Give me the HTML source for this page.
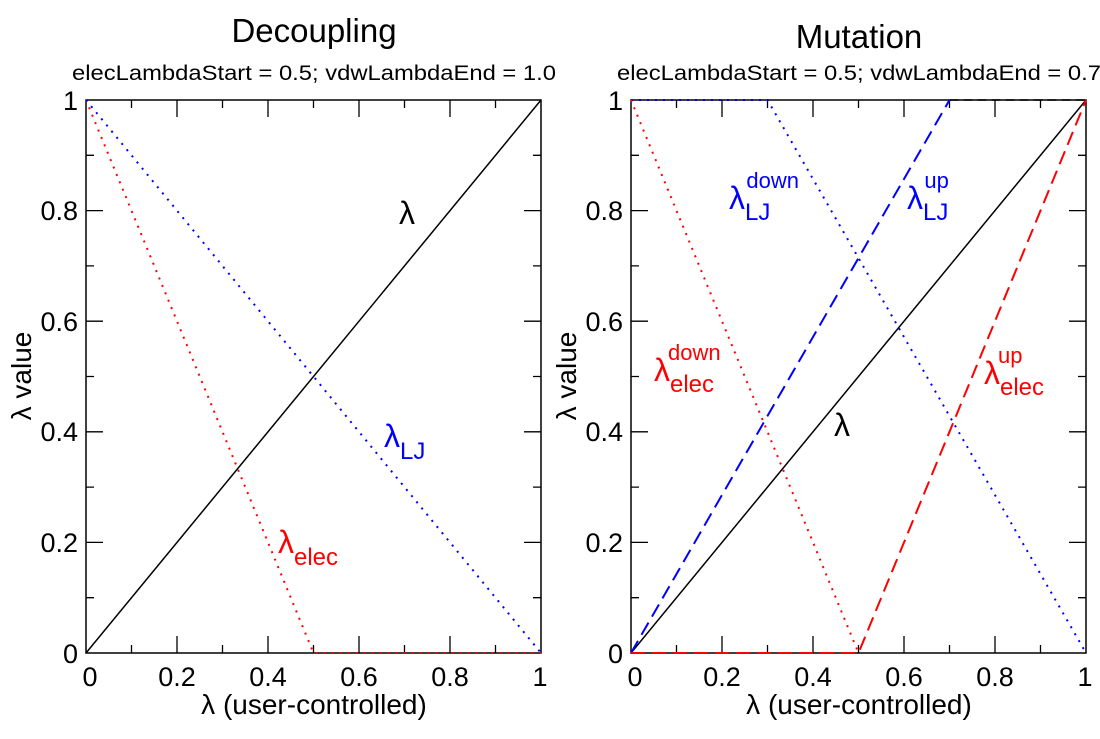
<!DOCTYPE html>
<html><head><meta charset="utf-8"><style>
html,body{margin:0;padding:0;background:#fff;}
svg{display:block;font-family:"Liberation Sans",sans-serif;}
</style></head><body>
<svg width="1100" height="739" viewBox="0 0 1100 739" xmlns="http://www.w3.org/2000/svg">
<g id="L">
  <text x="314" y="42" font-size="33" text-anchor="middle">Decoupling</text>
  <text x="314" y="80" font-size="21" text-anchor="middle" textLength="484" lengthAdjust="spacingAndGlyphs">elecLambdaStart = 0.5; vdwLambdaEnd = 1.0</text>
  <rect x="86" y="100" width="455" height="553" fill="none" stroke="#000" stroke-width="1.5"/>
  <g stroke="#000" stroke-width="1.3">
    <path d="M177,653v-17M268,653v-17M359,653v-17M450,653v-17M177,100v17M268,100v17M359,100v17M450,100v17
    M131.5,653v-8M222.5,653v-8M313.5,653v-8M404.5,653v-8M495.5,653v-8M131.5,100v8M222.5,100v8M313.5,100v8M404.5,100v8M495.5,100v8
    M86,542.4h17M86,431.8h17M86,321.2h17M86,210.6h17M541,542.4h-17M541,431.8h-17M541,321.2h-17M541,210.6h-17
    M86,597.7h8M86,487.1h8M86,376.5h8M86,265.9h8M86,155.3h8M541,597.7h-8M541,487.1h-8M541,376.5h-8M541,265.9h-8M541,155.3h-8"/>
  </g>
  <g font-size="27" text-anchor="end">
    <text x="78" y="663">0</text><text x="78" y="552">0.2</text><text x="78" y="441">0.4</text><text x="78" y="331">0.6</text><text x="78" y="220">0.8</text><text x="78" y="110">1</text>
  </g>
  <g font-size="27" text-anchor="middle">
    <text x="90" y="686">0</text><text x="177" y="686">0.2</text><text x="268" y="686">0.4</text><text x="359" y="686">0.6</text><text x="450" y="686">0.8</text><text x="540" y="686">1</text>
    <text x="314" y="714" font-size="28">λ (user-controlled)</text>
  </g>
  <text transform="translate(31,376) rotate(-90)" font-size="28" text-anchor="middle">λ value</text>
  <line x1="86" y1="653" x2="541" y2="100" stroke="#000" stroke-width="1.5"/>
  <polyline points="86,100 313.5,653 541,653" fill="none" stroke="#f00" stroke-width="2" stroke-dasharray="2,6"/>
  <line x1="86" y1="100" x2="541" y2="653" stroke="#00f" stroke-width="2" stroke-dasharray="2,6"/>
  <text x="399" y="224" font-size="32">λ</text>
  <text x="384" y="447" font-size="32" fill="#00f">λ<tspan font-size="24" dy="12">LJ</tspan></text>
  <text x="278" y="553" font-size="32" fill="#f00">λ<tspan font-size="24" dy="12">elec</tspan></text>
</g>
<g id="R">
  <text x="859" y="48" font-size="33" text-anchor="middle">Mutation</text>
  <text x="859" y="80" font-size="21" text-anchor="middle" textLength="484" lengthAdjust="spacingAndGlyphs">elecLambdaStart = 0.5; vdwLambdaEnd = 0.7</text>
  <rect x="631" y="100" width="455" height="553" fill="none" stroke="#000" stroke-width="1.5"/>
  <g stroke="#000" stroke-width="1.3">
    <path d="M722,653v-17M813,653v-17M904,653v-17M995,653v-17M722,100v17M813,100v17M904,100v17M995,100v17
    M676.5,653v-8M767.5,653v-8M858.5,653v-8M949.5,653v-8M1040.5,653v-8M676.5,100v8M767.5,100v8M858.5,100v8M949.5,100v8M1040.5,100v8
    M631,542.4h17M631,431.8h17M631,321.2h17M631,210.6h17M1086,542.4h-17M1086,431.8h-17M1086,321.2h-17M1086,210.6h-17
    M631,597.7h8M631,487.1h8M631,376.5h8M631,265.9h8M631,155.3h8M1086,597.7h-8M1086,487.1h-8M1086,376.5h-8M1086,265.9h-8M1086,155.3h-8"/>
  </g>
  <g font-size="27" text-anchor="end">
    <text x="623" y="663">0</text><text x="623" y="552">0.2</text><text x="623" y="441">0.4</text><text x="623" y="331">0.6</text><text x="623" y="220">0.8</text><text x="623" y="110">1</text>
  </g>
  <g font-size="27" text-anchor="middle">
    <text x="635" y="686">0</text><text x="722" y="686">0.2</text><text x="813" y="686">0.4</text><text x="904" y="686">0.6</text><text x="995" y="686">0.8</text><text x="1085" y="686">1</text>
    <text x="859" y="714" font-size="28">λ (user-controlled)</text>
  </g>
  <text transform="translate(576,376) rotate(-90)" font-size="28" text-anchor="middle">λ value</text>
  <line x1="631" y1="653" x2="1086" y2="100" stroke="#000" stroke-width="1.5"/>
  <line x1="949.5" y1="100" x2="1086" y2="100" stroke="#000" stroke-width="1.5" stroke-dasharray="9,5"/>
  <polyline points="631,100 767.5,100 1086,653" fill="none" stroke="#00f" stroke-width="2" stroke-dasharray="2,6"/>
  <polyline points="631,100 858.5,653" fill="none" stroke="#f00" stroke-width="2" stroke-dasharray="2,6"/>
  <line x1="631" y1="653" x2="949.5" y2="100" stroke="#00f" stroke-width="2" stroke-dasharray="14,7"/>
  <polyline points="631,653 858.5,653 1086,100" fill="none" stroke="#f00" stroke-width="2" stroke-dasharray="14,7"/>
  <text x="834" y="436" font-size="32">λ</text>
  <text x="729" y="209" font-size="32" fill="#00f">λ<tspan font-size="24" dy="11">LJ</tspan><tspan font-size="22" dy="-32" dx="-24">down</tspan></text>
  <text x="907" y="209" font-size="32" fill="#00f">λ<tspan font-size="24" dy="11">LJ</tspan><tspan font-size="22" dy="-32" dx="-24">up</tspan></text>
  <text x="654" y="381" font-size="32" fill="#f00">λ<tspan font-size="24" dy="11">elec</tspan><tspan font-size="22" dy="-32" dx="-46">down</tspan></text>
  <text x="984" y="384" font-size="32" fill="#f00">λ<tspan font-size="24" dy="11">elec</tspan><tspan font-size="22" dy="-32" dx="-46">up</tspan></text>
</g>
</svg>
</body></html>
